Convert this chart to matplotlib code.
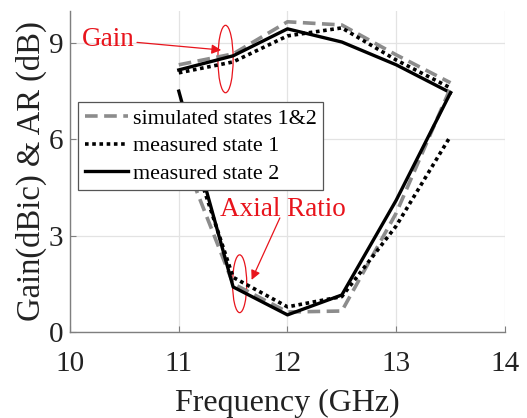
import matplotlib
matplotlib.use('Agg')
import matplotlib.pyplot as plt
from matplotlib.patches import Ellipse

freq = [11, 11.5, 12, 12.5, 13, 13.5]

# gain curves (dBic)
gain_sim = [8.32, 8.66, 9.66, 9.56, 8.63, 7.76]
gain_meas1 = [8.07, 8.41, 9.22, 9.47, 8.47, 7.60]
gain_meas2 = [8.16, 8.60, 9.44, 9.03, 8.32, 7.45]

# axial ratio curves (dB)
ar_sim = [5.8, 1.5, 0.62, 0.65, 3.7, 7.6]
ar_meas1 = [6.8, 1.7, 0.78, 1.1, 3.3, 6.1]
ar_meas2 = [7.5, 1.4, 0.53, 1.15, 4.1, 7.45]

labels = ['simulated states 1&2', 'measured state 1', 'measured state 2']

plt.rcParams['font.family'] = ['Liberation Serif', 'DejaVu Serif']

fig = plt.figure(figsize=(5.27, 4.18), dpi=100)
ax = fig.add_axes([0.133, 0.206, 0.825, 0.768])

sim_style = dict(color='#8c8c8c', lw=2.6, linestyle=(0, (3.5, 1.8)))
m1_style = dict(color='black', lw=2.6, linestyle=(0, (1, 1)))
m2_style = dict(color='black', lw=2.4, linestyle='-')

ax.plot(freq, gain_sim, label=labels[0], **sim_style)
ax.plot(freq, gain_meas1, label=labels[1], **m1_style)
ax.plot(freq, gain_meas2, label=labels[2], **m2_style)
ax.plot(freq, ar_sim, **sim_style)
ax.plot(freq, ar_meas1, **m1_style)
ax.plot(freq, ar_meas2, **m2_style)

ax.set_xlim(10, 14)
ax.set_ylim(0, 10)
ax.set_xticks([10, 11, 12, 13, 14])
ax.set_yticks([0, 3, 6, 9])
ax.grid(True, color='#e3e3e3', lw=0.9)
ax.set_axisbelow(True)
for side in ['top', 'right']:
    ax.spines[side].set_visible(False)
for side in ['left', 'bottom']:
    ax.spines[side].set_color('#7f7f7f')
    ax.spines[side].set_linewidth(1.0)
ax.tick_params(direction='in', length=4, color='#7f7f7f', labelsize=21,
               labelcolor='#222222')
ax.tick_params(axis='x', pad=14)
ax.tick_params(axis='y', pad=5)

ax.set_xlabel('Frequency (GHz)', fontsize=23, color='#222222', labelpad=8)
ax.set_ylabel('Gain(dBic) & AR (dB)', fontsize=23.5, color='#222222', labelpad=1)

leg = ax.legend(loc='upper left', bbox_to_anchor=(0.018, 0.717), fontsize=15.8,
                frameon=True, fancybox=False, framealpha=1, edgecolor='#555555',
                handlelength=2.0, handletextpad=0.2, borderpad=0.3,
                labelspacing=0.33, borderaxespad=0)
leg.get_frame().set_linewidth(0.9)

# annotations
red = '#e8141c'
ax.add_patch(Ellipse((11.43, 8.5), 0.14, 2.1, fill=False, ec=red, lw=0.9))
ax.add_patch(Ellipse((11.56, 1.5), 0.13, 1.8, fill=False, ec=red, lw=0.9))
ax.annotate('Gain', xy=(11.39, 8.78), xytext=(10.59, 9.1), color=red,
            fontsize=19.5, ha='right', va='center',
            arrowprops=dict(arrowstyle='-|>', color=red, lw=0.9,
                            mutation_scale=14, shrinkA=0, shrinkB=0))
ax.annotate('', xy=(11.67, 1.62), xytext=(11.93, 3.55),
            arrowprops=dict(arrowstyle='-|>', color=red, lw=0.9,
                            mutation_scale=14, shrinkA=0, shrinkB=0))
ax.text(11.96, 3.8, 'Axial Ratio', color=red, fontsize=19.5,
        ha='center', va='center')

fig.savefig('out.png', dpi=100)
